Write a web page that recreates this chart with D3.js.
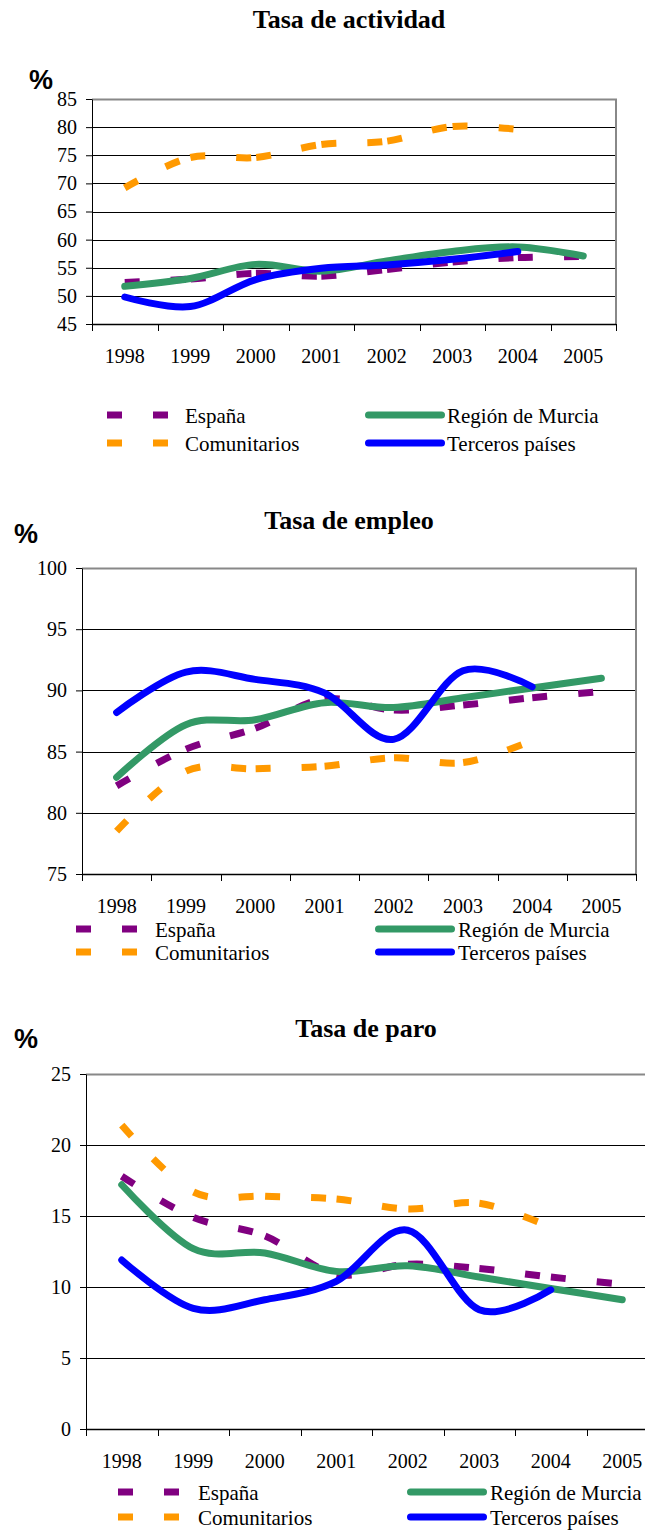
<!doctype html>
<html>
<head>
<meta charset="utf-8">
<title>Tasas de actividad, empleo y paro</title>
<script src="https://cdnjs.cloudflare.com/ajax/libs/d3/7.8.5/d3.min.js"></script>
<style>
  body { margin: 0; background: #fff; }
  svg { display: block; }
  text { font-family: "Liberation Serif", "Times New Roman", serif; fill: #000; }
  .pct { font-family: "Liberation Sans", Arial, sans-serif; font-weight: bold; }
</style>
</head>
<body>
<script>
// ---- data ----
var years = ["1998", "1999", "2000", "2001", "2002", "2003", "2004", "2005"];
var seriesNames = ["España", "Comunitarios", "Región de Murcia", "Terceros países"];

var actividadTicks = [45, 50, 55, 60, 65, 70, 75, 80, 85];
var actividadEspana = [52.4, 53.0, 54.0, 53.5, 54.7, 56.0, 56.8, 57.0];
var actividadComunitarios = [69.2, 74.6, 74.6, 76.9, 77.5, 80.1, 79.6];
var actividadMurcia = [51.7, 53.1, 55.6, 54.4, 56.2, 57.9, 58.7, 57.1];
var actividadTerceros = [49.8, 48.1, 52.9, 54.9, 55.5, 56.5, 57.9];

var empleoTicks = [75, 80, 85, 90, 95, 100];
var empleoEspana = [82.2, 85.2, 86.9, 89.3, 88.4, 88.8, 89.4, 89.9];
var empleoComunitarios = [78.5, 83.4, 83.6, 83.8, 84.5, 84.1, 85.9];
var empleoMurcia = [82.9, 87.2, 87.6, 89.0, 88.6, 89.4, 90.2, 91.0];
var empleoTerceros = [88.2, 91.5, 90.9, 89.8, 86.0, 91.6, 90.3];

var paroTicks = [0, 5, 10, 15, 20, 25];
var paroEspana = [17.8, 14.9, 13.6, 10.9, 11.6, 11.3, 10.7, 10.2];
var paroComunitarios = [21.4, 16.7, 16.4, 16.2, 15.5, 15.9, 14.2];
var paroMurcia = [17.2, 12.7, 12.4, 11.1, 11.5, 10.7, 9.9, 9.1];
var paroTerceros = [11.9, 8.5, 9.1, 10.4, 14.0, 8.4, 9.8];

var colors = ["#800080", "#FF9900", "#339966", "#0000FF"];
var dashed = [true, true, false, false];

var serif = "'Liberation Serif', 'Times New Roman', serif";

var svg = d3.select("body").append("svg").attr("width", 645).attr("height", 1533);

var charts = [
  { title: "Tasa de actividad", titleX: 349, titleY: 28, pctX: 29, pctY: 89,
    left: 92, right: 616, top: 99, bottom: 324, ticks: actividadTicks, labelY: 363,
    rows: [415, 443], sw: 107, txt1: 185, ln: [365, 445], txt2: 447,
    values: [actividadEspana, actividadComunitarios, actividadMurcia, actividadTerceros] },
  { title: "Tasa de empleo", titleX: 349, titleY: 529, pctX: 14, pctY: 543,
    left: 82, right: 636, top: 568, bottom: 874, ticks: empleoTicks, labelY: 913,
    rows: [929, 952], sw: 76, txt1: 155, ln: [375, 455], txt2: 458,
    values: [empleoEspana, empleoComunitarios, empleoMurcia, empleoTerceros] },
  { title: "Tasa de paro", titleX: 366, titleY: 1037, pctX: 14, pctY: 1048,
    left: 86, right: 658, top: 1074, bottom: 1429, ticks: paroTicks, labelY: 1468,
    rows: [1492, 1517], sw: 118, txt1: 198, ln: [407, 487], txt2: 490,
    values: [paroEspana, paroComunitarios, paroMurcia, paroTerceros] }
];

// Excel restarts the dash pattern at every data point
function segmentDash(path, xs) {
  var total = path.getTotalLength();
  var marks = [0], k = 1;
  for (var l = 0; l <= total && k < xs.length; l += 0.5) {
    if (path.getPointAtLength(l).x >= xs[k]) { marks.push(l); k++; }
  }
  if (marks.length < xs.length) marks.push(total);
  var arr = [];
  for (var i = 0; i < marks.length - 1; i++) {
    var L = marks[i + 1] - marks[i];
    arr.push(15, 31, 15, Math.max(L - 61, 0.1));
  }
  return arr.join(",");
}

charts.forEach(function (c) {
  var x = d3.scaleBand().domain(years).range([c.left, c.right]);
  var y = d3.scaleLinear().domain([c.ticks[0], c.ticks[c.ticks.length - 1]]).range([c.bottom, c.top]);
  var g = svg.append("g");

  g.append("text").attr("x", c.titleX).attr("y", c.titleY).attr("text-anchor", "middle")
    .style("font-size", "26px").style("font-weight", "bold").text(c.title);
  g.append("text").attr("class", "pct").attr("x", c.pctX).attr("y", c.pctY)
    .style("font-size", "27px").text("%");

  // gridlines
  g.selectAll(".grid").data(c.ticks.slice(1, -1)).join("line")
    .attr("x1", c.left).attr("x2", c.right)
    .attr("y1", d => Math.round(y(d)) + 0.5).attr("y2", d => Math.round(y(d)) + 0.5)
    .attr("stroke", "#000").attr("stroke-width", 1);
  // plot border (top + right in grey)
  g.append("path")
    .attr("d", "M" + c.left + "," + (c.top + 0.5) + "H" + c.right + "V" + c.bottom)
    .attr("fill", "none").attr("stroke", "#888").attr("stroke-width", 2);

  // y axis
  var yAxis = g.append("g").attr("transform", "translate(" + c.left + ",0)")
    .call(d3.axisLeft(y).tickValues(c.ticks).tickSize(6).tickSizeOuter(0).tickPadding(9))
    .attr("font-family", serif).attr("font-size", 20);
  yAxis.selectAll("text").style("font-family", serif).style("font-size", "20px");
  yAxis.selectAll("line, path").attr("stroke", "#000");

  // x axis: ticks on category boundaries, labels centred
  var bounds = years.map(d => x(d)).concat([x(years[years.length - 1]) + x.bandwidth()]);
  g.append("line").attr("x1", c.left).attr("x2", c.right)
    .attr("y1", c.bottom + 0.5).attr("y2", c.bottom + 0.5)
    .attr("stroke", "#000").attr("stroke-width", 1.5);
  g.selectAll(".xt").data(bounds).join("line")
    .attr("x1", d => Math.round(d) + 0.5).attr("x2", d => Math.round(d) + 0.5)
    .attr("y1", c.bottom).attr("y2", c.bottom + 7).attr("stroke", "#000");
  g.selectAll(".xl").data(years).join("text")
    .attr("x", d => x(d) + x.bandwidth() / 2).attr("y", c.labelY)
    .attr("text-anchor", "middle").style("font-family", serif).style("font-size", "20px").text(d => d);

  // series
  var line = d3.line()
    .x((d, i) => x(years[i]) + x.bandwidth() / 2)
    .y(d => y(d))
    .curve(d3.curveCardinal.tension(0));

  c.values.forEach(function (vals, s) {
    var p = g.append("path").attr("d", line(vals)).attr("fill", "none")
      .attr("stroke", colors[s]).attr("stroke-width", 7)
      .attr("stroke-linejoin", "round")
      .attr("stroke-linecap", dashed[s] ? "butt" : "round");
    if (dashed[s]) {
      var xs = vals.map((d, i) => x(years[i]) + x.bandwidth() / 2);
      p.attr("stroke-dasharray", segmentDash(p.node(), xs));
    }
  });

  // legend
  seriesNames.forEach(function (name, s) {
    var row = c.rows[s % 2];
    if (dashed[s]) {
      g.append("line").attr("x1", c.sw).attr("x2", c.sw + 61).attr("y1", row).attr("y2", row)
        .attr("stroke", colors[s]).attr("stroke-width", 7).attr("stroke-dasharray", "15,31,15");
      g.append("text").attr("x", c.txt1).attr("y", row + 8).style("font-size", "21px").text(name);
    } else {
      g.append("line").attr("x1", c.ln[0] + 3.5).attr("x2", c.ln[1] - 3.5).attr("y1", row).attr("y2", row)
        .attr("stroke", colors[s]).attr("stroke-width", 7).attr("stroke-linecap", "round");
      g.append("text").attr("x", c.txt2).attr("y", row + 8).style("font-size", "21px").text(name);
    }
  });
});
</script>
</body>
</html>
